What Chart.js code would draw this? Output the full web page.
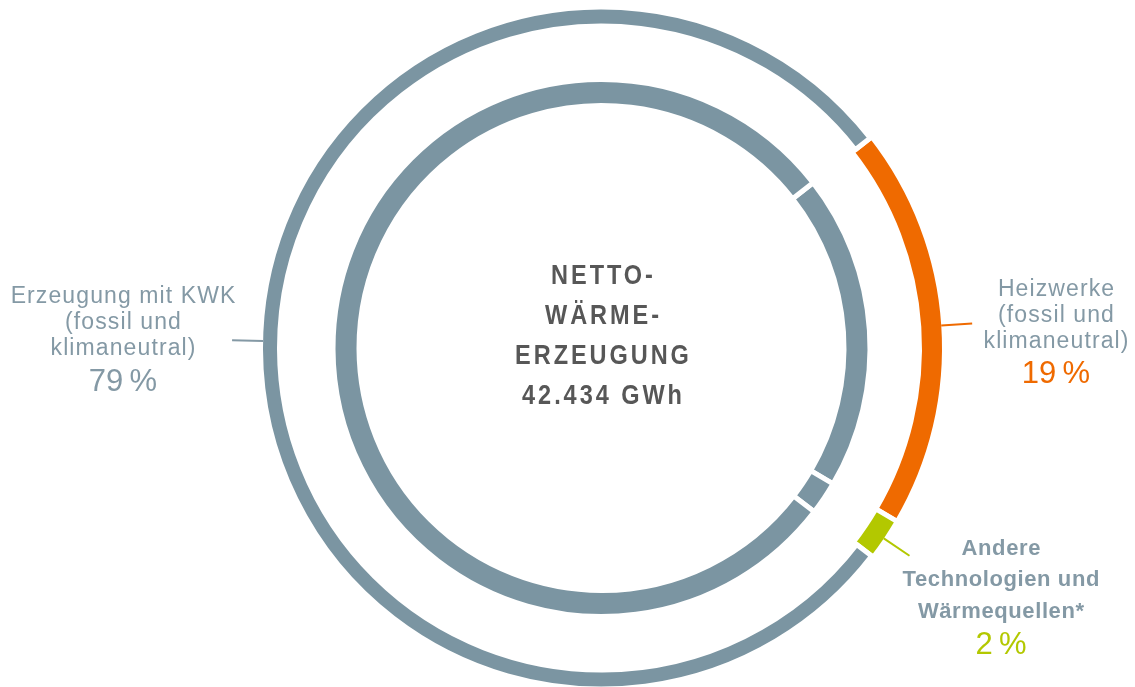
<!DOCTYPE html>
<html lang="de">
<head>
<meta charset="utf-8">
<title>Netto-Wärmeerzeugung</title>
<script src="https://cdn.jsdelivr.net/npm/chart.js@4.4.1/dist/chart.umd.min.js"></script>
<style>
  html, body { margin: 0; padding: 0; background: #fff; }
  #wrap { position: relative; width: 1135px; height: 687px; overflow: hidden; }
  #chart { position: absolute; left: 0; top: 0; }
  .lbl {
    position: absolute;
    transform: translateX(-50%);
    text-align: center;
    white-space: nowrap;
    font-family: "Liberation Sans", Arial, sans-serif;
    color: #8499a5;
  }
  .name { font-size: 23px; line-height: 26px; letter-spacing: 1.1px; padding-left: 1.1px; }
  .name.strong { font-size: 22px; font-weight: bold; line-height: 31.3px; letter-spacing: 0.6px; padding-left: 0.6px; }
  .value { font-size: 31px; line-height: 34px; }
  .center {
    font-family: "Liberation Sans", Arial, sans-serif;
    font-weight: bold;
    font-size: 28px;
    line-height: 40px;
    letter-spacing: 3.5px;
    padding-left: 3.5px;
    color: #575757;
    /* condensed look */
    transform: translateX(-50%) scaleX(0.84);
  }
</style>
</head>
<body>
<div id="wrap">
  <canvas id="chart" width="1135" height="687"></canvas>
</div>
<script>
// shares of net heat generation (%)
const categories = [
  'Heizwerke (fossil und klimaneutral)',
  'Andere Technologien und Wärmequellen*',
  'Erzeugung mit KWK (fossil und klimaneutral)'
];
const shares = [19, 2, 79];
const segmentColors = ['#ef6a00', '#b3c800', '#7b95a2'];
const innerColor = '#7b95a2';

const labelLines = [
  ['Heizwerke', '(fossil und', 'klimaneutral)'],
  ['Andere', 'Technologien und', 'Wärmequellen*'],
  ['Erzeugung mit KWK', '(fossil und', 'klimaneutral)']
];
const centerLines = ['NETTO-', 'WÄRME-', 'ERZEUGUNG', '42.434 GWh'];

// where each label block sits and how its leader line looks
const labelLayout = [
  { x: 1056, nameTop: 275, valueTop: 356, color: '#ef6a00', grow: [2, 4] },
  { x: 1001, nameTop: 532, valueTop: 627, color: '#b3c800', grow: [2, 4], strong: true },
  { x: 123, nameTop: 282, valueTop: 364, color: '#8499a5', grow: [0, 0], angle: 271.2 }
];

const ringBorder = 5;

// orange and green arcs are a bit heavier than the grey outer ring
const thickArcs = {
  id: 'thickArcs',
  afterDatasetsUpdate(chart) {
    const meta = chart.getDatasetMeta(0);
    meta.data.forEach((arc, i) => {
      const [out, inn] = labelLayout[i].grow;
      arc.outerRadius += out;
      arc.innerRadius -= inn;
    });
  }
};

// short radial leader lines from the outer ring towards the labels
const leaders = {
  id: 'leaders',
  afterDatasetsDraw(chart) {
    const ctx = chart.ctx;
    const meta = chart.getDatasetMeta(0);
    ctx.save();
    ctx.lineWidth = 2;
    meta.data.forEach((arc, i) => {
      const lay = labelLayout[i];
      const a = lay.angle != null
        ? (lay.angle - 90) * Math.PI / 180
        : (arc.startAngle + arc.endAngle) / 2;
      const r0 = arc.outerRadius - ringBorder / 2;
      const r1 = r0 + 31;
      ctx.strokeStyle = lay.color;
      ctx.beginPath();
      ctx.moveTo(arc.x + Math.cos(a) * r0, arc.y + Math.sin(a) * r0);
      ctx.lineTo(arc.x + Math.cos(a) * r1, arc.y + Math.sin(a) * r1);
      ctx.stroke();
    });
    ctx.restore();
  }
};

const canvas = document.getElementById('chart');
new Chart(canvas, {
  type: 'doughnut',
  data: {
    labels: categories,
    datasets: [
      { data: shares, backgroundColor: segmentColors, borderColor: '#fff', borderWidth: ringBorder, weight: 19 },
      { data: shares, backgroundColor: 'rgba(0,0,0,0)', borderWidth: 0, weight: 53.5 },
      { data: shares, backgroundColor: innerColor, borderColor: '#fff', borderWidth: ringBorder, weight: 26 }
    ]
  },
  options: {
    responsive: false,
    animation: false,
    events: [],
    rotation: 52,
    radius: 341,
    cutout: (242.5 / 341 * 100) + '%',
    layout: { padding: { left: 68, top: 9, right: 0, bottom: 0 } },
    plugins: {
      legend: { display: false },
      tooltip: { enabled: false }
    }
  },
  plugins: [thickArcs, leaders]
});

// text blocks
const wrap = document.getElementById('wrap');
labelLines.forEach((lines, i) => {
  const lay = labelLayout[i];
  const name = document.createElement('div');
  name.className = 'lbl name' + (lay.strong ? ' strong' : '');
  name.style.left = lay.x + 'px';
  name.style.top = lay.nameTop + 'px';
  name.innerHTML = lines.join('<br>');
  wrap.appendChild(name);

  const value = document.createElement('div');
  value.className = 'lbl value';
  value.style.left = lay.x + 'px';
  value.style.top = lay.valueTop + 'px';
  value.style.color = segmentColors[i] === innerColor ? '#8499a5' : segmentColors[i];
  value.textContent = shares[i] + '\u2009%';
  wrap.appendChild(value);
});

const center = document.createElement('div');
center.className = 'lbl center';
center.style.left = '601.5px';
center.style.top = '255px';
center.innerHTML = centerLines.join('<br>');
wrap.appendChild(center);
</script>
</body>
</html>
